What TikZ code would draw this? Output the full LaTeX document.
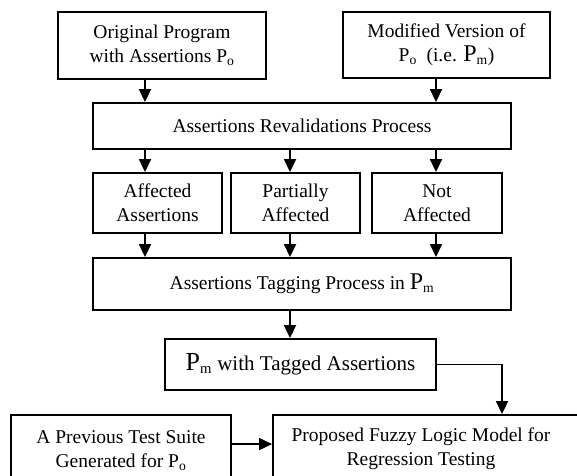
\documentclass[tikz,border=0pt]{standalone}
\usepackage{fontspec}
\setmainfont{Liberation Serif}
\usetikzlibrary{arrows.meta}
\begin{document}
\begin{tikzpicture}[x=1pt,y=-1pt,
  box/.style={draw, line width=1.9pt, inner sep=0pt, align=center, font=\fontsize{19.5}{24}\selectfont},
  arr/.style={line width=1.8pt, -{Triangle[length=13pt,width=12pt]}},
  txt/.style={inner sep=0pt, align=center, font=\fontsize{19.5}{24}\selectfont}]
\useasboundingbox (0,0) rectangle (577,475);
\clip (0,0) rectangle (577,475);
\coordinate (c1) at (145,0);
\coordinate (c2) at (290,0);
\coordinate (c3) at (436,0);
\coordinate (c4) at (502,0);
\node[box, minimum width=208pt, minimum height=67pt] (orig) at (162,45.5)
  {Original Program\\with Assertions P\textsubscript{o}};
\node[box, minimum width=207pt, minimum height=66pt] (mod) at (446.5,45)
  {Modified Version of\\P\textsubscript{o}~ (i.e. {\fontsize{24}{24}\selectfont P}\textsubscript{m})};
\node[box, minimum width=418pt, minimum height=46pt] (reval) at (302,126)
  {Assertions Revalidations Process};
\node[box, minimum width=129pt, minimum height=60pt] (aff) at (157.5,203)
  {Affected\\Assertions};
\node[box, minimum width=129pt, minimum height=60pt] (part) at (295.5,203)
  {Partially\\Affected};
\node[box, minimum width=130pt, minimum height=60pt] (notaff) at (437,203)
  {Not\\Affected};
\node[box, minimum width=418pt, minimum height=52pt] (tag) at (302,284)
  {Assertions Tagging Process in {\fontsize{24}{24}\selectfont P}\textsubscript{m}};
\node[box, minimum width=271pt, minimum height=51pt, font=\fontsize{21}{24}\selectfont] (pm) at (300.5,364.5)
  {{\fontsize{26}{26}\selectfont P}\textsubscript{m} with Tagged Assertions};
\node[box, minimum width=220pt, minimum height=85pt] (prev) at (121,457.5) {};
\node[box, minimum width=327pt, minimum height=85pt] (fuzzy) at (436.5,457.5) {};
\node[txt] (prevtxt) at (121,451) {A Previous Test Suite\\Generated for P\textsubscript{o}};
\node[txt] (fuzzytxt) at (421,449) {Proposed Fuzzy Logic Model for\\Regression Testing};
\draw[arr] (orig.south -| c1) -- (reval.north -| c1);
\draw[arr] (mod.south -| c3) -- (reval.north -| c3);
\draw[arr] (reval.south -| c1) -- (aff.north -| c1);
\draw[arr] (reval.south -| c2) -- (part.north -| c2);
\draw[arr] (reval.south -| c3) -- (notaff.north -| c3);
\draw[arr] (aff.south -| c1) -- (tag.north -| c1);
\draw[arr] (part.south -| c2) -- (tag.north -| c2);
\draw[arr] (notaff.south -| c3) -- (tag.north -| c3);
\draw[arr] (tag.south -| c2) -- (pm.north -| c2);
\draw[arr] (pm.east) -| (fuzzy.north -| c4);
\draw[arr] ([yshift=-30pt]prev.north east) -- ([yshift=-30pt]fuzzy.north west);
\end{tikzpicture}
\end{document}
